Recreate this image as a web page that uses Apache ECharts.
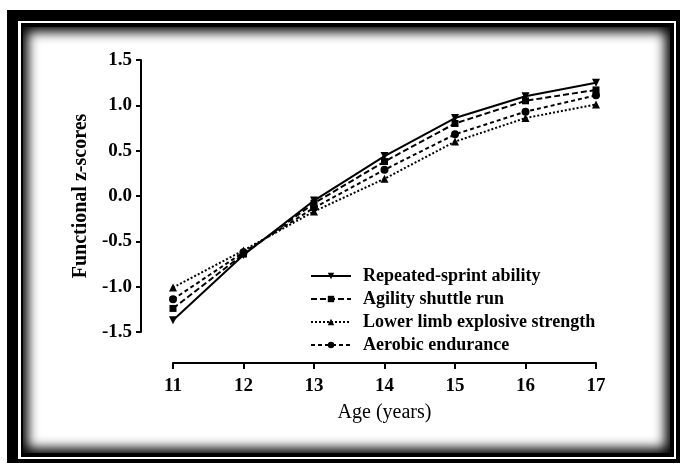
<!DOCTYPE html>
<html>
<head>
<meta charset="utf-8">
<script src="https://cdn.jsdelivr.net/npm/echarts@6/dist/echarts.min.js"></script>
<style>
  html, body { margin: 0; padding: 0; background: #fff; }
  .box { position: absolute; }
  #f1 { left: 7px; top: 10px; right: 0; bottom: 3px; background: #000; }
  #f2 { left: 18px; top: 21px; right: 4px; bottom: 7px; background: #fff; }
  #f3 { left: 21px; top: 23px; right: 6px; bottom: 9px; background: #000; }
  #f4 { left: 23px; top: 27px; right: 10px; bottom: 13px; background: #fff;
        box-shadow: inset 0 0 12px 5px #000; }
  #chart { position: absolute; left: 0; top: 0; width: 680px; height: 466px; z-index: 2; }
</style>
</head>
<body>
<div class="box" id="f1"></div>
<div class="box" id="f2"></div>
<div class="box" id="f3"></div>
<div class="box" id="f4"></div>
<div id="chart"></div>
<script>
// 年龄 (x)
const ages = [11, 12, 13, 14, 15, 16, 17];
// 各项 z 分数
const repeatedSprint = [-1.37, -0.65, -0.05, 0.44, 0.86, 1.10, 1.25];
const agilityShuttle = [-1.24, -0.64, -0.08, 0.38, 0.80, 1.05, 1.17];
const lowerLimb = [-1.01, -0.60, -0.17, 0.19, 0.60, 0.86, 1.01];
const aerobic = [-1.14, -0.62, -0.13, 0.29, 0.68, 0.93, 1.11];
const seriesNames = [
  'Repeated-sprint ability',
  'Agility shuttle run',
  'Lower limb explosive strength',
  'Aerobic endurance',
];

const font = 'Liberation Serif, Times New Roman, serif';
const pairs = (ys) => ages.map((a, i) => [a, ys[i]]);

const makeLine = (name, ys, symbol, lineType, rotate) => ({
  name,
  type: 'line',
  data: pairs(ys),
  symbol,
  symbolSize: symbol === 'rect' ? 7 : 8,
  symbolRotate: rotate || 0,
  itemStyle: { color: '#000' },
  lineStyle: { color: '#000', width: 2, type: lineType },
  emphasis: { disabled: true },
});

const myChart = echarts.init(document.getElementById('chart'));
myChart.setOption({
  animation: false,
  backgroundColor: 'transparent',
  grid: { left: 173, right: 84, top: 60, bottom: 134 },
  legend: {
    orient: 'vertical',
    left: 305,
    top: 262,
    itemWidth: 40,
    itemHeight: 8,
    itemGap: 5,
    data: seriesNames,
    textStyle: {
      fontFamily: font,
      fontSize: 18,
      fontWeight: 'bold',
      color: '#000',
      padding: [0, 0, 0, 7],
    },
  },
  xAxis: {
    type: 'value',
    min: 11,
    max: 17,
    interval: 1,
    offset: 31,
    name: 'Age (years)',
    nameLocation: 'middle',
    nameGap: 40,
    nameTextStyle: { fontFamily: font, fontSize: 20, color: '#000' },
    axisLine: { onZero: false, lineStyle: { color: '#000', width: 2 } },
    axisTick: { length: 6, lineStyle: { color: '#000', width: 2 } },
    axisLabel: { fontFamily: font, fontSize: 19, fontWeight: 'bold', color: '#000', margin: 14 },
    splitLine: { show: false },
  },
  yAxis: {
    type: 'value',
    min: -1.5,
    max: 1.5,
    interval: 0.5,
    offset: 32,
    name: 'Functional z-scores',
    nameLocation: 'middle',
    nameGap: 46,
    nameTextStyle: { fontFamily: font, fontSize: 20, fontWeight: 'bold', color: '#000' },
    axisLine: { show: true, onZero: false, lineStyle: { color: '#000', width: 2 } },
    axisTick: { show: true, length: 5, lineStyle: { color: '#000', width: 2 } },
    axisLabel: {
      fontFamily: font, fontSize: 19, fontWeight: 'bold', color: '#000', margin: 9,
      formatter: (v) => v.toFixed(1),
    },
    splitLine: { show: false },
  },
  series: [
    makeLine(seriesNames[0], repeatedSprint, 'triangle', 'solid', 180),
    makeLine(seriesNames[1], agilityShuttle, 'rect', [6, 3]),
    makeLine(seriesNames[2], lowerLimb, 'triangle', [2, 2]),
    makeLine(seriesNames[3], aerobic, 'circle', [4, 3]),
  ],
});
</script>
</body>
</html>
